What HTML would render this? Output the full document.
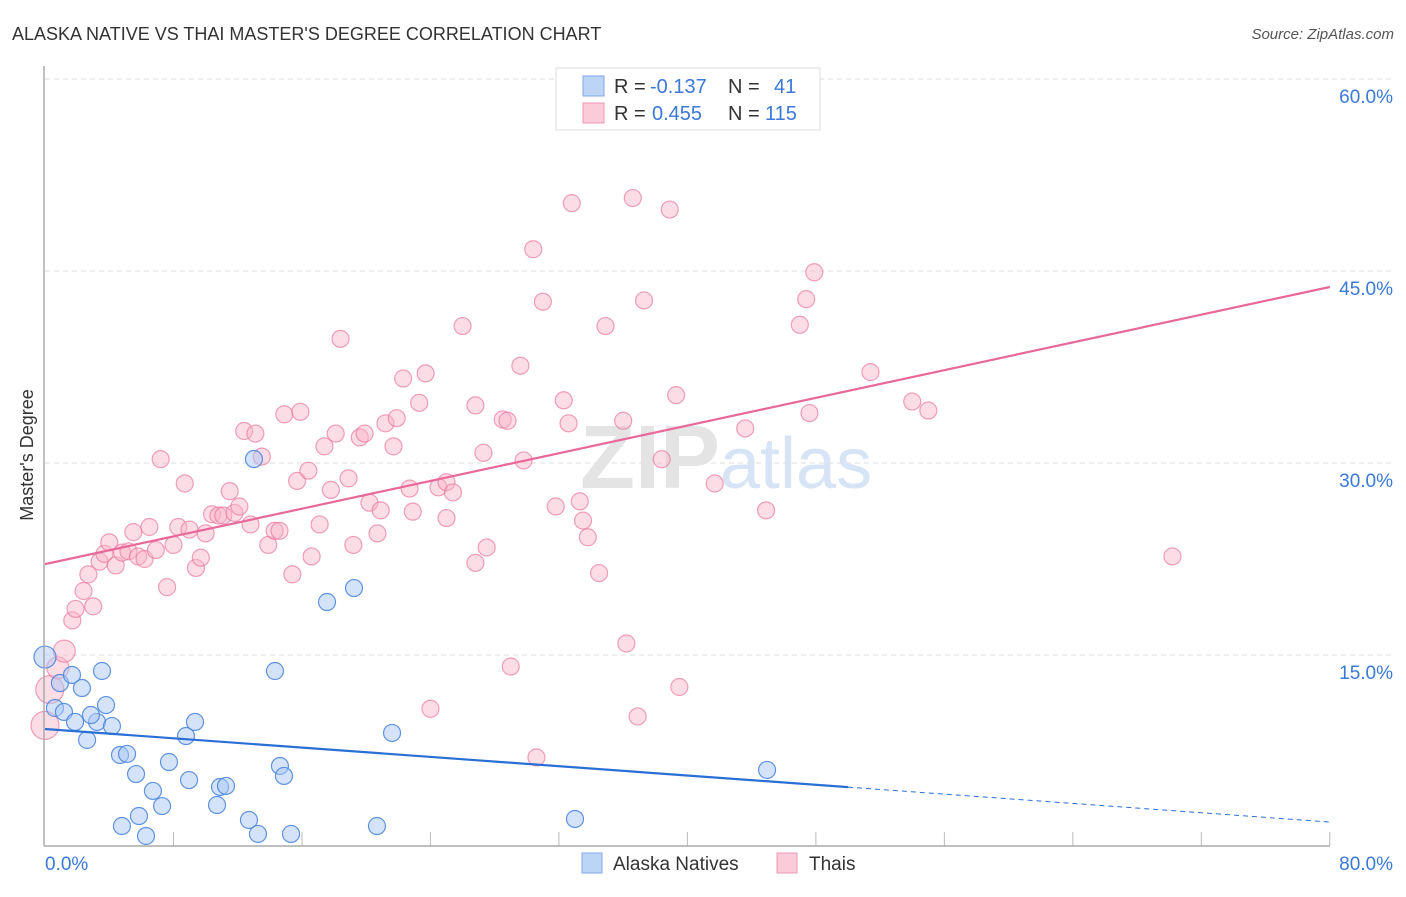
<!DOCTYPE html>
<html><head><meta charset="utf-8"><style>
body{margin:0;background:#fff;font-family:"Liberation Sans",sans-serif;}
svg text{font-family:"Liberation Sans",sans-serif;}
</style></head><body>
<svg id="chart" width="1406" height="892">
<text x="12" y="40" font-size="18" fill="#333">ALASKA NATIVE VS THAI MASTER'S DEGREE CORRELATION CHART</text>
<text x="1394" y="39" font-size="15" fill="#555" text-anchor="end" font-style="italic">Source: ZipAtlas.com</text>
<g id="grid"></g>
<text x="720" y="488" font-size="90" fill="#e4e4e4" text-anchor="end" font-family="Liberation Serif" font-weight="bold">ZIP</text>
<text x="720" y="488" font-size="72" fill="#d6e4f5">atlas</text>
<g id="marks"></g>
<line x1="44" y1="66" x2="44" y2="846" stroke="#aaa" stroke-width="1.5"/>
<line x1="44" y1="846" x2="1330" y2="846" stroke="#aaa" stroke-width="1.5"/>
<text x="33" y="455" font-size="18" fill="#333" text-anchor="middle" transform="rotate(-90 33 455)">Master's Degree</text>
<text x="45" y="870" font-size="19" fill="#3b78d8">0.0%</text>
<text x="1393" y="870" font-size="19" fill="#3b78d8" text-anchor="end">80.0%</text>
<g>
<rect x="556" y="68" width="264" height="62" fill="#fff" stroke="#ddd"/>
<rect x="583" y="76" width="21" height="20" fill="#bcd4f5" stroke="#7fa8e6"/>
<rect x="583" y="103" width="21" height="20" fill="#fbcbd9" stroke="#ef9ab5"/>
<text x="614" y="93" font-size="20" fill="#333">R = <tspan x="650" fill="#3b78d8">-0.137</tspan><tspan x="728">N = </tspan><tspan x="774" fill="#3b78d8">41</tspan></text>
<text x="614" y="120" font-size="20" fill="#333">R = <tspan x="652" fill="#3b78d8">0.455</tspan><tspan x="728">N = </tspan><tspan x="765" fill="#3b78d8">115</tspan></text>
</g>
<g>
<rect x="582" y="853" width="20" height="20" fill="#bcd4f5" stroke="#7fa8e6"/>
<text x="613" y="870" font-size="19" fill="#333">Alaska Natives</text>
<rect x="777" y="853" width="20" height="20" fill="#fbcbd9" stroke="#ef9ab5"/>
<text x="809" y="870" font-size="19" fill="#333">Thais</text>
</g>
</svg>
<script>
const yTicks=[15,30,45,60];
const yTickLabels=["15.0%","30.0%","45.0%","60.0%"];
const xTicks=[8,16,24,32,40,48,56,64,72,80];
const blueX=[0,0.62,0.93,1.68,1.18,2.30,3.55,1.87,2.62,3.24,2.86,3.80,4.17,4.67,5.11,5.67,6.72,7.29,7.72,4.79,5.85,6.29,8.78,9.34,8.97,10.71,10.90,11.27,12.70,13.26,13.01,15.32,14.63,14.88,14.32,17.56,19.24,20.67,21.61,33.0,44.96];
const blueY=[14.84,10.86,12.81,13.44,10.55,12.42,13.75,9.77,8.36,9.77,10.31,11.09,9.45,7.19,7.27,5.70,4.38,3.20,6.64,1.64,2.42,0.86,8.67,9.77,5.23,3.28,4.69,4.77,2.11,1.02,30.31,1.02,6.33,5.55,13.75,19.14,20.23,1.64,8.91,2.19,6.02];
const pinkX=[0.0,0.3,0.8,1.2,1.7,1.9,2.4,2.7,3.0,3.4,3.7,4.0,4.4,4.8,5.2,5.5,5.8,6.2,6.5,6.9,7.2,7.6,8.0,8.3,8.7,9.0,9.4,9.7,10.0,10.4,10.8,11.1,11.5,11.8,12.1,12.4,12.8,13.1,13.5,13.9,14.3,14.6,14.9,15.4,15.7,15.9,16.4,16.6,17.1,17.4,17.8,18.1,18.4,18.9,19.2,19.6,19.9,20.2,20.7,20.9,21.2,21.7,21.9,22.3,22.9,22.7,23.3,23.7,24.5,25.0,25.0,25.4,26.0,26.8,26.8,27.3,27.5,28.5,28.8,29.0,29.6,29.8,30.4,30.6,31.0,31.8,32.3,32.6,32.8,33.3,33.5,33.8,34.5,34.9,36.0,36.2,36.6,36.9,37.3,38.4,38.9,39.3,39.5,41.7,43.6,44.9,47.0,47.4,47.6,47.9,51.4,54.0,55.0,70.2,24.0];
const pinkY=[9.5,12.3,14.0,15.3,17.7,18.6,20.0,21.3,18.8,22.3,22.9,23.8,22.0,23.0,23.1,24.6,22.7,22.5,25.0,23.2,30.3,20.3,23.6,25.0,28.4,24.8,21.8,22.6,24.5,26.0,25.9,25.9,27.8,26.1,26.6,32.5,25.2,32.3,30.5,23.6,24.7,24.7,33.8,21.3,28.6,34.0,29.4,22.7,25.2,31.3,27.9,32.3,39.7,28.8,23.6,32.0,32.3,26.9,24.5,26.3,33.1,31.3,33.5,36.6,26.2,28.0,34.7,37.0,28.1,28.5,25.7,27.7,40.7,34.5,22.2,30.8,23.4,33.4,33.3,14.1,37.6,30.2,46.7,7.0,42.6,26.6,34.9,33.1,50.3,27.0,25.5,24.2,21.4,40.7,33.3,15.9,50.7,10.2,42.7,30.3,49.8,35.3,12.5,28.4,32.7,26.3,40.8,42.8,33.9,44.9,37.1,34.8,34.1,22.7,10.8];
const blueFit=[9.22,1.95];
const pinkFit=[22.1,43.75];
const NS='http://www.w3.org/2000/svg';
const sx=v=>45+v*16.06, sy=v=>847-v*12.8;
const grid=document.getElementById('grid'), marks=document.getElementById('marks');
function mk(t,a,p){const e=document.createElementNS(NS,t);for(const k in a)e.setAttribute(k,a[k]);p.appendChild(e);return e;}
yTicks.forEach((t,i)=>{
 const l=mk('line',{x1:45,x2:1392,y1:sy(t),y2:sy(t),stroke:'#ddd','stroke-dasharray':'5,4'},grid);
 
 
 const tx=mk('text',{x:1393,y:sy(t)+24,'font-size':19,fill:'#3b78d8','text-anchor':'end'},grid);
 tx.textContent=yTickLabels[i];
 
 
});
xTicks.forEach(t=>{
 const l=mk('line',{x1:sx(t),x2:sx(t),y1:832,y2:846,stroke:'#bbb'},grid);
 
 
});
pinkX.forEach((x,i)=>{
 const c=mk('circle',{cx:sx(x),cy:sy(pinkY[i]),r:i<2?14:(i<4?11:8.5),fill:'rgba(248,180,200,0.45)',stroke:'rgba(234,120,160,0.7)','stroke-width':1.2},marks);
 
 
});
blueX.forEach((x,i)=>{
 const c=mk('circle',{cx:sx(x),cy:sy(blueY[i]),r:i===0?11:8.5,fill:'rgba(170,200,245,0.5)',stroke:'rgba(70,130,220,0.85)','stroke-width':1.2},marks);
 
 
});
const f=(a,x)=>a[0]+(a[1]-a[0])*x/80;
const pl=mk('line',{x1:sx(0),y1:sy(f(pinkFit,0)),x2:sx(80),y2:sy(f(pinkFit,80)),stroke:'#e8689a','stroke-width':2.2},marks);


const bl=mk('line',{x1:sx(0),y1:sy(f(blueFit,0)),x2:sx(50),y2:sy(f(blueFit,50)),stroke:'#2a6fd6','stroke-width':2.2},marks);


const bd=mk('line',{x1:sx(50),y1:sy(f(blueFit,50)),x2:sx(80),y2:sy(f(blueFit,80)),stroke:'#2a6fd6','stroke-width':1,'stroke-dasharray':'5,4'},marks);


</script>
</body></html>
